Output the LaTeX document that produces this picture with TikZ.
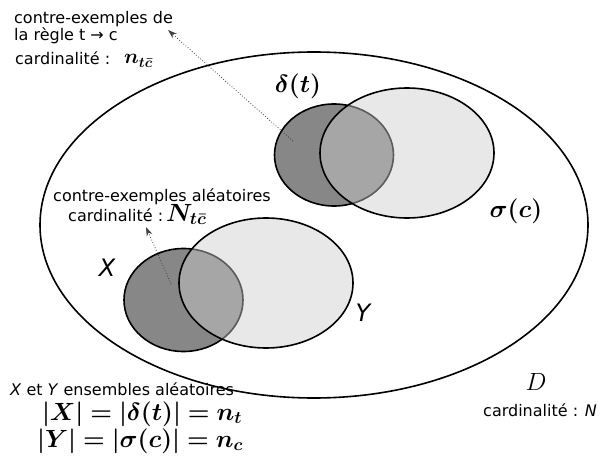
\documentclass[tikz,border=0pt]{standalone}
\usepackage[no-math]{fontspec}
\setmainfont{DejaVu Sans}
\usepackage{amsmath}
\usepackage{bm}
\usetikzlibrary{arrows.meta,shapes.geometric}
\definecolor{darkset}{gray}{0.53}
\definecolor{lightset}{gray}{0.80}
\begin{document}
\begin{tikzpicture}[x=1pt,y=-1pt,
  txt/.style={inner sep=0pt, font=\fontsize{16}{16}\selectfont},
  mth/.style={inner sep=0pt, font=\fontsize{#1}{#1}\selectfont},
  setname/.style={inner sep=0pt, font=\fontsize{24}{24}\selectfont\itshape},
  universe/.style={draw, ellipse, line width=1.6pt, fill=white, inner sep=0pt},
  darkset/.style={draw, ellipse, line width=1.6pt, fill=darkset, inner sep=0pt},
  lightset/.style={draw, ellipse, line width=1.6pt, fill=lightset, fill opacity=0.45, draw opacity=1, inner sep=0pt},
  ptr/.style={dotted, line width=0.8pt, draw=black!75, -{Stealth[length=9pt,width=6pt]}}]
\useasboundingbox (0,0) rectangle (600,468);
\fill[white] (0,0) rectangle (600,468);
\node[universe, minimum width=548pt, minimum height=346pt] (U) at (314,225) {};
% upper sets
\node[darkset, minimum width=119pt, minimum height=102pt] (dt) at (334,155) {};
\node[lightset, minimum width=174pt, minimum height=130pt] (sc) at (407,153) {};
% lower sets
\node[darkset, minimum width=119pt, minimum height=103pt] (X) at (183.5,300) {};
\node[lightset, minimum width=174pt, minimum height=130pt] (Y) at (266,283) {};
% labels
\node[mth=27] (ldt) at (298,86) {$\bm{\delta(t)}$};
\node[mth=28] (lsc) at (516,211) {$\bm{\sigma(c)}$};
\node[setname] (lX) at (107,268) {X};
\node[setname] (lY) at (363,313) {Y};
\node[mth=30] (lD) at (536,382) {$D$};
\node[txt, anchor=base west] (cN) at (483,416) {cardinalité : \textit{N}};
% top annotation
\node[txt, anchor=north west, align=left] (ce1) at (14,11) {contre-exemples de\\la règle t → c};
\node[txt, anchor=base west] (card1) at (15,65) {cardinalité :};
\node[mth=21, anchor=base west] (n1) at (124,64) {$\bm{n_{t\bar{c}}}$};
\coordinate (s1) at (293,141);
\coordinate (e1) at (168,30);
\draw[ptr] (s1) -- (e1);
% lower annotation
\node[txt, anchor=base west] (ce2) at (53,201) {contre-exemples aléatoires};
\node[txt, anchor=base west] (card2) at (68,222) {cardinalité :};
\node[mth=24, anchor=base west] (n2) at (166,221) {$\bm{N_{t\bar{c}}}$};
\coordinate (s2) at (171,284);
\coordinate (e2) at (146,227);
\draw[ptr] (s2) -- (e2);
% bottom left
\node[txt, anchor=base west] (xy) at (10,395) {\textit{X} et \textit{Y} ensembles aléatoires};
\node[mth=24] (fX) at (142,414) {$\bm{|X|=|\delta(t)|=n_t}$};
\node[mth=24] (fY) at (140,441) {$\bm{|Y|=|\sigma(c)|=n_c}$};
\end{tikzpicture}
\end{document}
